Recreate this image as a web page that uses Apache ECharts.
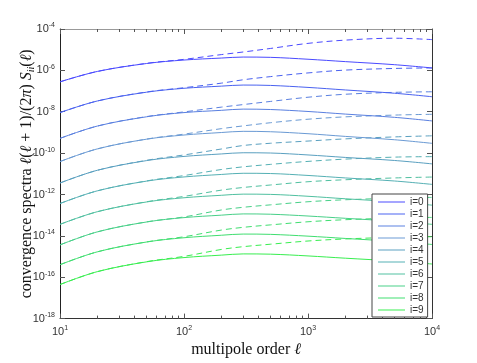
<!DOCTYPE html>
<html>
<head>
<meta charset="utf-8">
<script src="https://cdn.jsdelivr.net/npm/echarts@6/dist/echarts.min.js"></script>
<style>
  html, body { margin: 0; padding: 0; background: #fff; }
  #chart { width: 477px; height: 363px; }
</style>
</head>
<body>
<div id="chart"></div>
<script>
// multipole order samples
var ell = [10, 20, 50, 100, 200, 300, 500, 1000, 2000, 5000, 10000];

// solid curves, one per bin i
var s0 = [2.79e-7, 8.87e-7, 2.15e-6, 3.16e-6, 3.94e-6, 4.40e-6, 4.26e-6, 3.45e-6, 2.65e-6, 1.88e-6, 1.31e-6];
var s1 = [9.1e-9, 3.31e-8, 8.83e-8, 1.36e-7, 1.73e-7, 1.95e-7, 1.87e-7, 1.50e-7, 1.13e-7, 7.83e-8, 5.32e-8];
var s2 = [5.15e-10, 2.03e-9, 5.71e-9, 9.1e-9, 1.17e-8, 1.34e-8, 1.28e-8, 1.03e-8, 7.71e-9, 5.36e-9, 3.60e-9];
var s3 = [3.90e-11, 1.60e-10, 4.72e-10, 7.50e-10, 9.89e-10, 1.13e-9, 1.08e-9, 8.67e-10, 6.43e-10, 4.42e-10, 2.97e-10];
var s4 = [3.59e-12, 1.48e-11, 4.35e-11, 6.92e-11, 9.12e-11, 1.04e-10, 1.01e-10, 8.16e-11, 6.19e-11, 4.40e-11, 3.02e-11];
var s5 = [3.66e-13, 1.50e-12, 4.44e-12, 7.05e-12, 9.29e-12, 1.06e-11, 1.03e-11, 8.32e-12, 6.31e-12, 4.48e-12, 3.08e-12];
var s6 = [3.6e-14, 1.47e-13, 4.36e-13, 6.95e-13, 9.15e-13, 1.04e-12, 1.01e-12, 8.2e-13, 6.2e-13, 4.42e-13, 3.05e-13];
var s7 = [3.66e-15, 1.56e-14, 4.69e-14, 7.62e-14, 1.00e-13, 1.15e-13, 1.11e-13, 9.10e-14, 7.05e-14, 5.07e-14, 3.60e-14];
var s8 = [4.03e-16, 1.69e-15, 5.05e-15, 8.11e-15, 1.07e-14, 1.22e-14, 1.18e-14, 9.68e-15, 7.50e-15, 5.38e-15, 3.83e-15];
var s9 = [4.43e-17, 1.86e-16, 5.55e-16, 8.91e-16, 1.17e-15, 1.34e-15, 1.30e-15, 1.07e-15, 8.32e-16, 6.03e-16, 4.35e-16];

// dashed curves
var d0 = [2.79e-7, 8.87e-7, 2.19e-6, 3.41e-6, 5.79e-6, 7.73e-6, 1.15e-5, 2.02e-5, 2.90e-5, 3.58e-5, 3.07e-5];
var d1 = [9.1e-9, 3.31e-8, 9.03e-8, 1.45e-7, 2.41e-7, 3.51e-7, 5.00e-7, 7.52e-7, 1.03e-6, 1.24e-6, 1.31e-6];
var d2 = [5.15e-10, 2.03e-9, 5.85e-9, 9.82e-9, 1.67e-8, 2.22e-8, 3.16e-8, 5.03e-8, 7.01e-8, 8.65e-8, 9.23e-8];
var d3 = [3.90e-11, 1.60e-10, 4.78e-10, 8.28e-10, 1.52e-9, 2.07e-9, 2.95e-9, 4.35e-9, 5.66e-9, 6.90e-9, 7.53e-9];
var d4 = [3.59e-12, 1.48e-11, 4.50e-11, 8.16e-11, 1.58e-10, 2.33e-10, 3.00e-10, 3.83e-10, 4.88e-10, 6.08e-10, 6.87e-10];
var d5 = [3.66e-13, 1.50e-12, 4.53e-12, 8.22e-12, 1.61e-11, 2.17e-11, 2.86e-11, 3.98e-11, 5.13e-11, 6.40e-11, 6.76e-11];
var d6 = [3.6e-14, 1.47e-13, 4.46e-13, 8.09e-13, 1.62e-12, 2.18e-12, 2.88e-12, 4.14e-12, 5.16e-12, 6.31e-12, 6.97e-12];
var d7 = [3.66e-15, 1.56e-14, 4.75e-14, 8.24e-14, 1.78e-13, 2.40e-13, 3.16e-13, 4.46e-13, 5.56e-13, 6.64e-13, 7.24e-13];
var d8 = [4.03e-16, 1.69e-15, 5.10e-15, 9.06e-15, 1.90e-14, 2.58e-14, 3.40e-14, 4.80e-14, 6.04e-14, 7.21e-14, 7.80e-14];
var d9 = [4.43e-17, 1.86e-16, 5.68e-16, 1.02e-15, 2.20e-15, 3.00e-15, 3.95e-15, 5.64e-15, 7.10e-15, 8.47e-15, 9.06e-15];

var names = ['i=0', 'i=1', 'i=2', 'i=3', 'i=4', 'i=5', 'i=6', 'i=7', 'i=8', 'i=9'];
var solid = [s0, s1, s2, s3, s4, s5, s6, s7, s8, s9];
var dashed = [d0, d1, d2, d3, d4, d5, d6, d7, d8, d9];
var colors = ['#4a4aff', '#4a62f0', '#5a80e0', '#6a9ad4', '#5aa0c0',
              '#55b0b4', '#50c0a0', '#48d088', '#40de70', '#38ee50'];

// tick positions
var xMajor = [10, 100, 1000, 10000];
var xMinor = [10, 20, 30, 40, 50, 60, 70, 80, 90, 100, 200, 300, 400, 500, 600, 700, 800, 900,
              1000, 2000, 3000, 4000, 5000, 6000, 7000, 8000, 9000, 10000];
var yMajor = [1e-18, 1e-16, 1e-14, 1e-12, 1e-10, 1e-8, 1e-6, 1e-4];

function pairs(ys) {
  return ys.map(function (y, k) { return [ell[k], y]; });
}

function powLabel(v) {
  var e = Math.round(Math.log10(v));
  return '{b|10}{e|' + e + '}';
}
var powRich = {
  b: { fontSize: 11, color: '#333', fontFamily: 'Liberation Sans' },
  e: { fontSize: 7, color: '#333', fontFamily: 'Liberation Sans', verticalAlign: 'bottom', padding: [0, 0, 7, 0] }
};

var serif = 'Liberation Serif';

var myChart = echarts.init(document.getElementById('chart'));

var series = [];
for (var i = 0; i < 10; i++) {
  series.push({
    name: names[i] + ' b',
    type: 'line',
    data: pairs(dashed[i]),
    smooth: 0.35,
    symbol: 'none',
    lineStyle: { color: colors[i], width: 1, type: [6, 4] },
    itemStyle: { color: colors[i] },
    z: 2
  });
}
for (var i = 0; i < 10; i++) {
  series.push({
    name: names[i],
    type: 'line',
    data: pairs(solid[i]),
    smooth: 0.35,
    symbol: 'none',
    lineStyle: { color: colors[i], width: 1 },
    itemStyle: { color: colors[i] },
    z: 3
  });
}

function xAxisDef(pos, ticks, len, showLine, lineColor, showLabel) {
  return {
    type: 'log', logBase: 10, min: 10, max: 10000, position: pos,
    axisLine: { show: showLine, lineStyle: { color: lineColor, width: 1 } },
    axisTick: { show: true, inside: true, length: len, customValues: ticks, lineStyle: { color: '#555' } },
    axisLabel: { show: showLabel, customValues: xMajor, formatter: powLabel, rich: powRich, margin: 6 },
    splitLine: { show: false },
    minorTick: { show: false }
  };
}

var xAxes = [
  xAxisDef('bottom', xMinor, 3, true, '#333', true),
  xAxisDef('bottom', xMajor, 5, false, '#333', false),
  xAxisDef('top', xMinor, 3, true, '#999', false),
  xAxisDef('top', xMajor, 5, false, '#999', false)
];
xAxes[0].name = 'multipole order {i|ℓ}';
xAxes[0].nameLocation = 'middle';
xAxes[0].nameGap = 22;
xAxes[0].nameTextStyle = {
  fontFamily: serif, fontSize: 16, color: '#111',
  rich: { i: { fontFamily: serif, fontStyle: 'italic', fontSize: 16, color: '#111' } }
};

option = {
  animation: false,
  backgroundColor: '#fff',
  grid: { left: 60, right: 45, top: 29, bottom: 42, containLabel: false },
  legend: {
    data: names,
    orient: 'vertical',
    left: 372, top: 194,
    icon: 'path://M0,0 L27,0 L27,1 L0,1 Z',
    itemGap: 2, itemWidth: 27, itemHeight: 10,
    padding: [3, 4, 2, 6],
    backgroundColor: '#fff',
    borderColor: '#444', borderWidth: 1, borderRadius: 0,
    textStyle: { fontSize: 10, color: '#333', fontFamily: 'Liberation Sans' }
  },
  xAxis: xAxes,
  yAxis: [{
    type: 'log', logBase: 10, min: 1e-18, max: 1e-4, position: 'left',
    axisLine: { show: true, lineStyle: { color: '#222' } },
    axisTick: { inside: true, length: 5, customValues: yMajor, lineStyle: { color: '#555' } },
    axisLabel: { customValues: yMajor, formatter: powLabel, rich: powRich, margin: 5 },
    splitLine: { show: false },
    name: 'convergence spectra {i|ℓ}({i|ℓ} + 1)/(2{i|π}) {i|S}{s|ii}({i|ℓ})',
    nameLocation: 'middle',
    nameRotate: 90,
    nameGap: 24,
    nameMoveOverlap: false,
    nameTextStyle: {
      fontFamily: serif, fontSize: 16, color: '#111',
      rich: {
        i: { fontFamily: serif, fontStyle: 'italic', fontSize: 16, color: '#111' },
        s: { fontFamily: serif, fontStyle: 'italic', fontSize: 10, color: '#111', verticalAlign: 'top', padding: [8, 0, 0, 0] }
      }
    }
  }, {
    type: 'log', logBase: 10, min: 1e-18, max: 1e-4, position: 'right',
    axisLine: { show: true, lineStyle: { color: '#333' } },
    axisTick: { inside: true, length: 5, customValues: yMajor, lineStyle: { color: '#555' } },
    axisLabel: { show: false },
    splitLine: { show: false }
  }],
  series: series
};

myChart.setOption(option);
</script>
</body>
</html>
